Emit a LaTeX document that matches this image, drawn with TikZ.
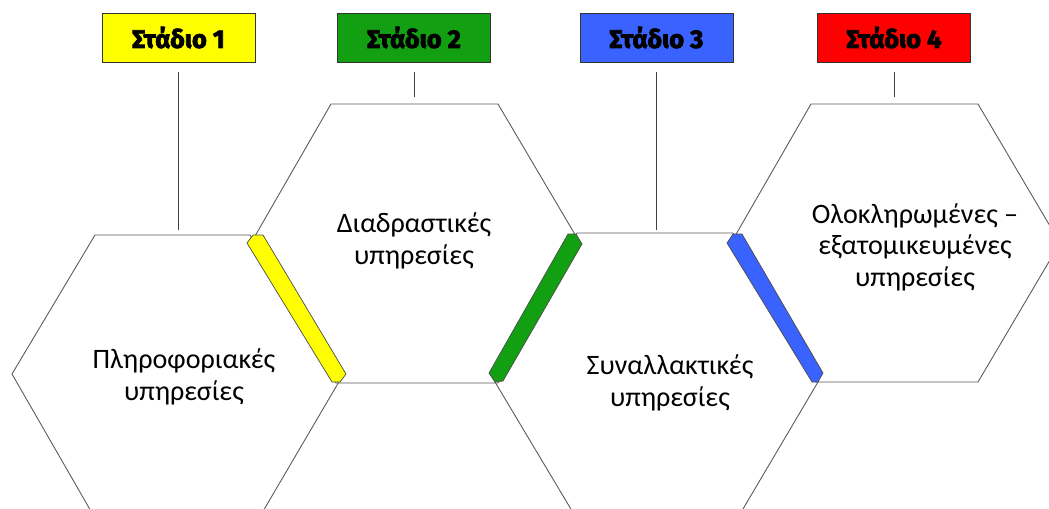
\documentclass[tikz,border=0pt]{standalone}
\usepackage{fontspec}
\setmainfont{Carlito}
\newfontfamily\stagefont{Fira Sans}[BoldFeatures={FakeBold=3}]
\usepackage{xcolor}
\definecolor{styellow}{HTML}{FFFF00}
\definecolor{stgreen}{HTML}{12A012}
\definecolor{stblue}{HTML}{3A62FF}
\definecolor{stred}{HTML}{FF0000}
\definecolor{edgegray}{HTML}{595959}

\tikzset{
stagebox/.style={draw=black!80,line width=0.5pt,minimum width=3.06cm,minimum height=0.98cm,inner sep=0pt,font=\stagefont\bfseries\fontsize{14.5}{16}\selectfont},
hexline/.style={draw=edgegray,line width=0.5pt},
band/.style={draw=black!70,line width=0.4pt},
service/.style={align=center,inner sep=0pt,font=\fontsize{16}{18}\selectfont},
link/.style={draw=black!75,line width=0.5pt,shorten <=0.2cm}
}

\begin{document}
\begin{tikzpicture}[x=0.02cm,y=-0.02cm]
\useasboundingbox (0,0) rectangle (1049,508);
\clip (0,0) rectangle (1049,508);
\draw[hexline] (95,235)--(250,235)--(340,380)--(262,513)--(92,513)--(12,374)--cycle;
\draw[hexline] (331,104)--(498,104)--(580,243)--(498,383)--(336,383)--(251,243)--cycle;
\draw[hexline] (577,233)--(733,233)--(818,382)--(730,531)--(584,531)--(495,382)--cycle;
\draw[hexline] (811,104)--(978,104)--(1060,243)--(978,382)--(816,382)--(731,243)--cycle;
\draw[band,fill=styellow] (247,243)--(253,235)--(263,235)--(346,374)--(340,382)--(332,382)--cycle;
\draw[band,fill=stgreen] (582,244)--(576,234)--(568,234)--(489,373)--(495,382)--(503,381)--cycle;
\draw[band,fill=stblue] (727,243)--(733,234)--(742,234)--(823,373)--(818,382)--(812,382)--cycle;
\node[service] at (184,377) (p1){Πληροφοριακές\\υπηρεσίες};
\node[service] at (414,241) (p2){Διαδραστικές\\υπηρεσίες};
\node[service] at (670,383) (p3){Συναλλακτικές\\υπηρεσίες};
\node[service] at (915,247) (p4){Ολοκληρωμένες –\\εξατομικευμένες\\υπηρεσίες};
\foreach \i/\x/\c/\e in {1/178.5/styellow/230,2/414/stgreen/97,3/656.5/stblue/230,4/894/stred/97}{
\node[stagebox,fill=\c] at (\x,37.5) (s\i){Στάδιο \i};
\coordinate (e\i) at (\x,\e);
\draw[link] (s\i)--(e\i);
}
\end{tikzpicture}
\end{document}
